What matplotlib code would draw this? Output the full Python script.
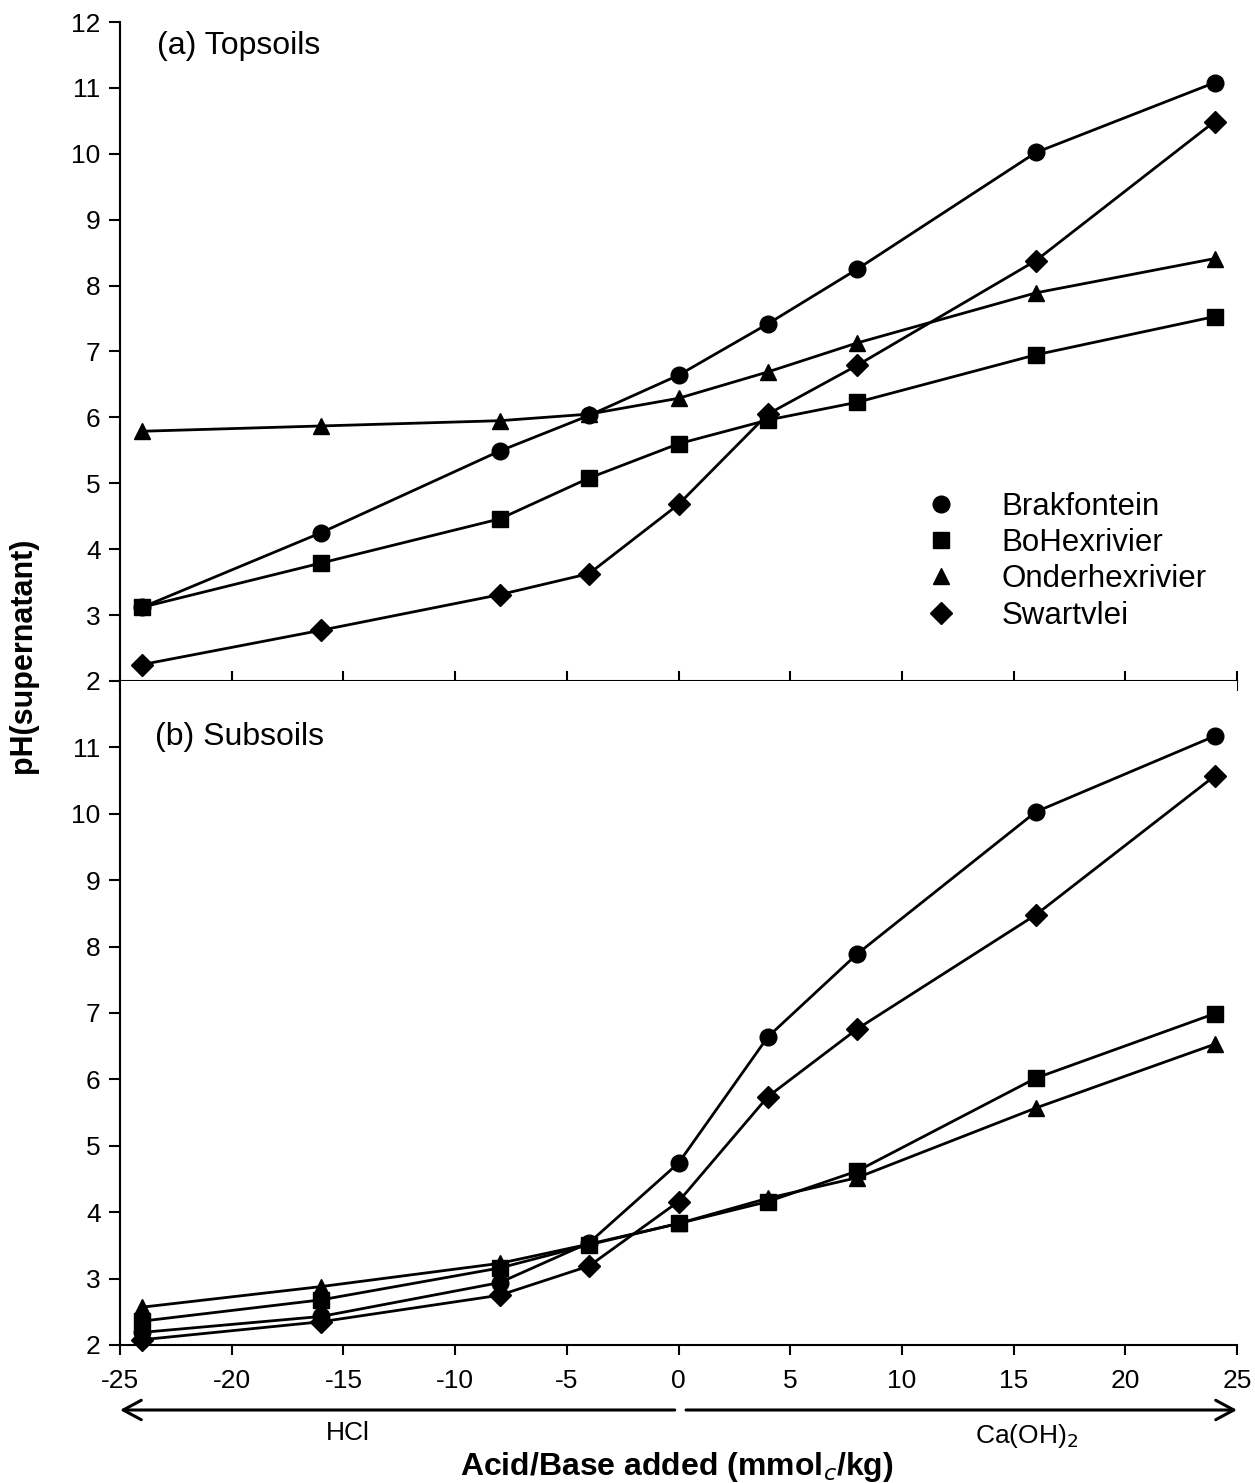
import matplotlib
matplotlib.use("Agg")
import matplotlib.pyplot as plt
from matplotlib.patches import FancyArrowPatch

plt.rcParams['font.family'] = ['Liberation Sans', 'DejaVu Sans']
plt.rcParams['axes.unicode_minus'] = False

# Acid (negative) / base (positive) additions, mmol_c/kg
added = [-24, -16, -8, -4, 0, 4, 8, 16, 24]

soils = ["Brakfontein", "BoHexrivier", "Onderhexrivier", "Swartvlei"]
markers = ["o", "s", "^", "D"]
msizes = [12, 11, 12, 11]

# (a) Topsoils
top_brakfontein = [3.12, 4.25, 5.49, 6.03, 6.64, 7.42, 8.25, 10.02, 11.08]
top_bohexrivier = [3.12, 3.79, 4.46, 5.08, 5.60, 5.96, 6.23, 6.95, 7.53]
top_onderhexrivier = [5.79, 5.87, 5.95, 6.05, 6.29, 6.69, 7.13, 7.89, 8.41]
top_swartvlei = [2.25, 2.77, 3.31, 3.63, 4.68, 6.05, 6.79, 8.38, 10.49]

# (b) Subsoils
sub_brakfontein = [2.19, 2.43, 2.94, 3.54, 4.74, 6.64, 7.89, 10.03, 11.17]
sub_bohexrivier = [2.36, 2.68, 3.16, 3.51, 3.83, 4.16, 4.62, 6.02, 6.99]
sub_onderhexrivier = [2.57, 2.88, 3.23, 3.52, 3.83, 4.21, 4.52, 5.57, 6.53]
sub_swartvlei = [2.08, 2.35, 2.75, 3.19, 4.16, 5.74, 6.76, 8.48, 10.57]

top_series = [top_brakfontein, top_bohexrivier, top_onderhexrivier, top_swartvlei]
sub_series = [sub_brakfontein, sub_bohexrivier, sub_onderhexrivier, sub_swartvlei]

W, H = 1255, 1483
fig = plt.figure(figsize=(W / 100, H / 100), dpi=100)
left, right = 120 / W, 1237 / W
y_top, y_mid, y_bot = 1 - 22 / H, 1 - 681 / H, 1 - 1345 / H
ax_top = fig.add_axes([left, y_mid, right - left, y_top - y_mid])
ax_sub = fig.add_axes([left, y_bot, right - left, y_mid - y_bot])

for ax, series in ((ax_top, top_series), (ax_sub, sub_series)):
    for name, vals, m, ms in zip(soils, series, markers, msizes):
        ax.plot(added, vals, color="black", lw=2, marker=m, ms=ms,
                mfc="black", mec="black", label=name, clip_on=False, zorder=3)
    ax.set_xlim(-25, 25)
    ax.set_ylim(2, 12)
    ax.spines["top"].set_visible(False)
    ax.spines["right"].set_visible(False)
    for s in ("left", "bottom"):
        ax.spines[s].set_linewidth(1.5)
    ax.set_xticks(range(-25, 26, 5))
    ax.tick_params(axis="y", direction="out", length=8, width=1.5,
                   labelsize=19, pad=6)

ax_top.set_yticks(range(2, 13))
ax_top.tick_params(axis="x", direction="inout", length=14, width=1.5,
                   labelbottom=False)
ax_sub.set_yticks(range(2, 12))
ax_sub.tick_params(axis="x", direction="out", length=7, width=1.5,
                   labelsize=19, pad=10)

ax_top.text(-23.35, 11.63, "(a) Topsoils", fontsize=23, va="center", ha="left")
ax_sub.text(-23.45, 11.15, "(b) Subsoils", fontsize=23, va="center", ha="left")

leg = ax_top.legend(loc="upper left", bbox_to_anchor=(0.735, 0.287),
                    frameon=False, fontsize=22.5, handlelength=0,
                    handletextpad=1.94, labelspacing=0.2, borderpad=0,
                    borderaxespad=0)
for h in leg.legend_handles:
    h.set_linestyle("none")

fig.text(0.018, 1 - 655 / H, "pH(supernatant)", rotation=90, fontsize=22,
         fontweight="bold", ha="center", va="center")

# Direction arrows beneath the x axis
arrow_y = 1 - 1410 / H
x_zero = 0.5 * (left + right)
style = "->,head_length=13,head_width=7"
fig.add_artist(FancyArrowPatch((x_zero - 0.003, arrow_y), (left, arrow_y),
                               transform=fig.transFigure, arrowstyle=style,
                               lw=2.2, color="black", shrinkA=0, shrinkB=0))
fig.add_artist(FancyArrowPatch((x_zero + 0.006, arrow_y), (right, arrow_y),
                               transform=fig.transFigure, arrowstyle=style,
                               lw=2.2, color="black", shrinkA=0, shrinkB=0))
fig.text(348 / W, 1 - 1433 / H, "HCl", fontsize=19, ha="center", va="center")
fig.text(1027 / W, 1 - 1436 / H, "Ca(OH)$_2$", fontsize=19, ha="center",
         va="center")
fig.text(677 / W, 1 - 1475 / H, "Acid/Base added (mmol$_c$/kg)", fontsize=23,
         fontweight="bold", ha="center", va="baseline")

fig.savefig("out.png", dpi=100)
